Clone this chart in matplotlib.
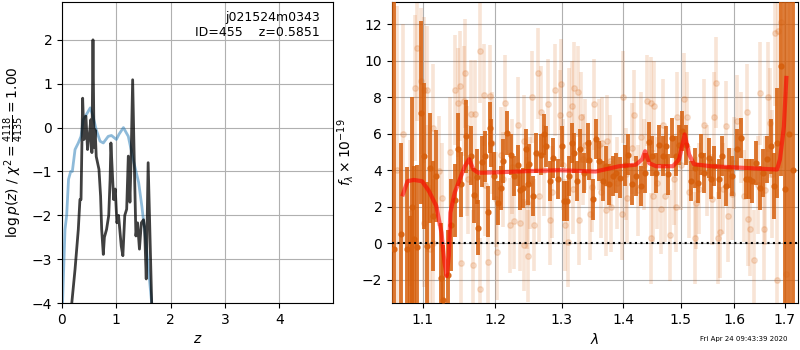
import matplotlib
matplotlib.use("Agg")
import matplotlib.pyplot as plt

# left panel: redshift probability
z_prior = [0.01, 0.055, 0.086, 0.12, 0.16, 0.19, 0.24, 0.30, 0.35, 0.39, 0.45, 0.52, 0.57, 0.63,
           0.70, 0.76, 0.85, 0.91, 1.0, 1.05, 1.13, 1.22, 1.31, 1.41, 1.47, 1.53, 1.59, 1.65]
logp_prior = [-4.0, -2.32, -2.0, -1.18, -1.0, -1.0, -0.5, -0.35, -0.2, 0.18, 0.3, 0.45, 0.26, -0.05,
              -0.31, -0.35, -0.2, -0.18, -0.27, -0.15, 0.0, -0.2, -0.73, -1.25, -1.8, -2.45, -3.2, -4.0]

z_fit = [0.18, 0.24, 0.30, 0.33, 0.35, 0.38, 0.405, 0.44, 0.47, 0.50, 0.53, 0.55, 0.57, 0.59,
         0.61, 0.63, 0.68, 0.71, 0.73, 0.76, 0.78, 0.82, 0.86, 0.885, 0.90, 0.95, 0.98, 1.01,
         1.04, 1.09, 1.12, 1.155, 1.19, 1.22, 1.25, 1.27, 1.30, 1.33, 1.36, 1.39, 1.425, 1.46,
         1.50, 1.52, 1.55, 1.585, 1.65]
logp_fit = [-4.0, -3.23, -2.32, -1.64, -1.64, 0.67, -0.27, 0.26, -0.5, -0.2, 0.18, -0.57, 2.0, -0.45,
            -0.05, -0.66, -0.95, -1.56, -2.32, -2.89, -2.5, -2.32, -2.0, -1.18, -0.35, -1.64, -1.4, -2.17,
            -2.0, -2.7, -2.92, -2.0, -1.86, -0.65, -1.7, -0.8, 1.09, -0.8, -2.47, -2.17, -2.77, -2.17,
            -2.1, -2.3, -3.45, -0.8, -4.0]

# right panel: spectrum, first beam (dark points)
wave_a = [1.062, 1.071, 1.079, 1.083, 1.086, 1.089, 1.093, 1.097, 1.101, 1.105, 1.109, 1.113, 1.117,
          1.124, 1.127, 1.134, 1.138, 1.143, 1.148, 1.152, 1.158, 1.165, 1.170, 1.174, 1.176, 1.181,
          1.185, 1.189, 1.192, 1.194, 1.199, 1.204, 1.208, 1.212, 1.217, 1.223, 1.228, 1.233, 1.237,
          1.241, 1.246, 1.249, 1.250, 1.256, 1.261, 1.268, 1.273, 1.276, 1.281, 1.287, 1.294, 1.300,
          1.304, 1.308, 1.311, 1.316, 1.320, 1.324, 1.329, 1.335, 1.341, 1.343, 1.350, 1.355, 1.360,
          1.366, 1.371, 1.376, 1.383, 1.387, 1.395, 1.402, 1.408, 1.414, 1.421, 1.430, 1.436, 1.443,
          1.449, 1.456, 1.462, 1.468, 1.474, 1.478, 1.485, 1.491, 1.497, 1.503, 1.509, 1.519, 1.525,
          1.531, 1.537, 1.543, 1.551, 1.556, 1.562, 1.571, 1.577, 1.583, 1.589, 1.596, 1.604, 1.612,
          1.622, 1.628, 1.635, 1.641, 1.650, 1.656, 1.663, 1.671, 1.677, 1.684, 1.692, 1.700, 1.708,
          1.716]
flux_a = [-0.33, 0.5, -0.33, -3.5, 2.0, 0.22, -0.2, 7.15, 4.77, -0.13, 4.13, 1.5, 3.68,
          -1.88, -3.1, -1.75, 1.0, 2.35, 5.14, 3.22, 5.86, 4.8, 2.62, 3.64, 0.86, 4.46,
          4.77, 1.73, 6.32, 5.5, 3.68, 2.22, 3.04, 4.5, 6.05, 4.86, 3.68, 4.26, 2.9,
          3.04, 5.14, 3.22, 4.32, 2.58, 4.95, 4.86, 5.96, 5.3, 3.4, 4.67, 3.52, 5.3,
          2.31, 2.31, 3.68, 5.5, 4.95, 3.4, 5.14, 3.86, 5.5, 4.58, 2.4, 5.72, 4.5,
          3.4, 4.22, 3.22, 3.68, 3.86, 3.6, 4.26, 4.86, 3.22, 3.68, 3.13, 3.86, 5.55,
          4.77, 3.86, 5.4, 4.77, 5.32, 3.77, 5.77, 4.77, 5.4, 6.14, 5.4, 3.4, 4.13,
          3.31, 4.86, 3.86, 4.68, 3.5, 4.22, 3.5, 4.77, 3.13, 4.13, 3.68, 5.14, 5.77,
          3.5, 3.5, 3.4, 4.4, 3.04, 3.86, 4.6, 5.3, 3.13, 5.5, 9.69, 3.0, 6.0,
          4.0]
err_a = [20, 5, 4.5, 5, 6, 4, 4.5, 5, 4, 3.5, 3, 3, 2.5,
         3, 3, 2.5, 2.5, 2, 2, 1.8, 2, 1.6, 1.5, 1.5, 1.5, 1.4,
         1.4, 1.4, 1.4, 1.3, 1.3, 1.2, 1.2, 1.2, 1.2, 1.1, 1.1, 1.1, 1.1,
         1.1, 1.1, 1.1, 1.1, 1.1, 1.1, 1.1, 1.1, 1.1, 1.1, 1.1, 1.1, 1.1,
         1.1, 1.1, 1.1, 1.1, 1.1, 1.1, 1.1, 1.1, 1.1, 1.1, 1.1, 1.1, 1.1,
         1.1, 1.1, 1.1, 1.1, 1.1, 1.1, 1.1, 1.1, 1.1, 1.1, 1.1, 1.1, 1.1,
         1.1, 1.1, 1.1, 1.1, 1.1, 1.1, 1.1, 1.1, 1.1, 1.1, 1.1, 1.1, 1.1,
         1.1, 1.1, 1.1, 1.1, 1.1, 1.1, 1.1, 1.1, 1.1, 1.1, 1.1, 1.1, 1.1,
         1.1, 1.1, 1.2, 1.2, 1.2, 1.3, 1.3, 1.5, 1.8, 3, 6, 15, 20,
         30]

# second beam (faint points)
wave_b = [1.066, 1.074, 1.083, 1.090, 1.093, 1.097, 1.101, 1.102, 1.105, 1.106, 1.110, 1.113, 1.114,
          1.122, 1.125, 1.137, 1.144, 1.148, 1.150, 1.152, 1.156, 1.157, 1.160, 1.162, 1.166, 1.169,
          1.171, 1.178, 1.179, 1.184, 1.186, 1.189, 1.192, 1.196, 1.201, 1.203, 1.208, 1.212, 1.214,
          1.221, 1.225, 1.228, 1.233, 1.237, 1.242, 1.243, 1.247, 1.249, 1.252, 1.255, 1.258, 1.263,
          1.265, 1.268, 1.272, 1.278, 1.281, 1.285, 1.289, 1.297, 1.299, 1.302, 1.305, 1.310, 1.312,
          1.316, 1.318, 1.320, 1.326, 1.328, 1.330, 1.334, 1.337, 1.345, 1.348, 1.352, 1.360, 1.362,
          1.365, 1.371, 1.373, 1.378, 1.380, 1.390, 1.398, 1.400, 1.404, 1.406, 1.415, 1.418, 1.425,
          1.430, 1.435, 1.440, 1.447, 1.448, 1.450, 1.453, 1.458, 1.465, 1.468, 1.472, 1.481, 1.488,
          1.491, 1.493, 1.500, 1.506, 1.512, 1.515, 1.525, 1.527, 1.533, 1.543, 1.548, 1.558, 1.562,
          1.565, 1.568, 1.573, 1.578, 1.583, 1.588, 1.595, 1.600, 1.605, 1.612, 1.618, 1.624, 1.626,
          1.631, 1.639, 1.645, 1.650, 1.657, 1.660, 1.666, 1.669, 1.673, 1.679, 1.684, 1.686, 1.692,
          1.703]
flux_b = [4.0, 6.0, 1.68, 8.5, 10.7, 8.9, 8.4, 1.13, 3.0, 8.4, -0.3, 0.0, 6.3,
          3.97, 2.5, 5.0, 8.4, 7.7, 8.6, -1.1, 7.8, 9.3, 4.5, 3.5, 7.05, -1.2,
          7.05, -2.5, 10.5, 8.1, 3.2, -1.0, 8.05, 5.5, 2.4, -0.5, 4.85, 3.5, 7.7,
          1.0, 4.2, 1.2, 6.5, 1.1, 5.6, -0.1, 2.2, -0.7, 3.3, 8.0, 1.0, 9.3,
          2.6, 7.2, 4.0, 7.6, 1.3, 2.8, 8.4, 7.0, 8.7, 4.3, 1.0, 0.1, 7.1,
          7.5, 3.0, 8.5, 8.3, 1.3, 6.9, 4.6, 5.4, 1.6, 3.1, 7.6, 5.4, 2.8,
          5.5, 1.8, 5.6, 4.5, 2.0, 3.3, 1.6, 8.0, 3.8, 2.5, 5.2, 7.0, 2.9,
          5.8, 4.3, 7.8, 7.7, 0.27, 2.6, 7.5, 3.3, 1.9, 6.5, 2.6, 0.44, 3.5,
          2.0, 6.9, 4.3, 7.9, 6.9, 2.8, 0.3, 2.2, 3.0, 6.5, 4.0, 2.4, 6.9,
          8.8, 0.3, 0.6, 3.0, 6.4, 1.5, 2.7, 4.4, 6.7, 5.8, 2.6, 7.2, 1.35,
          0.8, -0.9, 3.2, 8.2, 0.8, 2.9, 8.0, 6.6, 3.8, 11.5, -2.0, 11.6, 12.1,
          -1.7]
err_b = [9, 6, 4, 4, 4, 4, 4, 3.5, 3.5, 3.5, 3.5, 3.5, 3.5,
         3, 3, 3, 3, 3, 3, 3, 3, 3, 3, 3, 3, 3,
         3, 2.8, 2.8, 2.8, 2.8, 2.8, 2.8, 2.8, 2.6, 2.6, 2.6, 2.6, 2.6,
         2.6, 2.6, 2.6, 2.6, 2.6, 2.5, 2.5, 2.5, 2.5, 2.5, 2.5, 2.5, 2.5,
         2.5, 2.5, 2.5, 2.5, 2.5, 2.5, 2.5, 2.5, 2.5, 2.5, 2.5, 2.5, 2.5,
         2.5, 2.5, 2.5, 2.5, 2.5, 2.5, 2.5, 2.5, 2.5, 2.5, 2.5, 2.5, 2.5,
         2.5, 2.5, 2.5, 2.5, 2.5, 2.5, 2.5, 2.5, 2.5, 2.5, 2.5, 2.5, 2.5,
         2.5, 2.5, 2.5, 2.5, 2.5, 2.5, 2.5, 2.5, 2.5, 2.5, 2.5, 2.5, 2.5,
         2.5, 2.5, 2.5, 2.5, 2.5, 2.5, 2.5, 2.5, 2.5, 2.5, 2.5, 2.5, 2.5,
         2.5, 2.5, 2.5, 2.5, 2.5, 2.5, 2.5, 2.5, 2.5, 2.5, 2.5, 2.6, 2.6,
         2.6, 2.7, 2.7, 2.8, 2.8, 3, 3, 3, 3.5, 4, 5, 6, 8,
         10]

# best-fit model
wave_m = [1.074, 1.080, 1.088, 1.099, 1.108, 1.118, 1.125, 1.129, 1.132, 1.135, 1.137, 1.143, 1.150,
          1.157, 1.163, 1.169, 1.176, 1.20, 1.246, 1.295, 1.354, 1.393, 1.421, 1.432, 1.437, 1.444,
          1.456, 1.465, 1.486, 1.497, 1.507, 1.515, 1.524, 1.555, 1.618, 1.684, 1.690, 1.698, 1.703]
flux_m = [2.68, 3.4, 3.47, 3.4, 2.87, 2.04, 0.58, -1.05, -1.79, -0.67, 1.68, 2.77, 3.5,
          4.22, 4.6, 4.04, 3.86, 3.88, 3.95, 4.0, 3.93, 4.22, 4.3, 4.6, 5.04, 4.39,
          4.22, 4.22, 4.22, 4.6, 5.96, 4.87, 4.33, 4.22, 4.13, 4.04, 4.6, 6.4, 9.05]

wave_ticks = [1.1, 1.2, 1.3, 1.4, 1.5, 1.6, 1.7]

orange = "#d65f0c"

fig = plt.figure(figsize=(8, 3.5), dpi=100)
ax1 = fig.add_axes([0.0775, 0.134, 0.339, 0.86])
ax2 = fig.add_axes([0.49, 0.134, 0.5075, 0.86])

ax1.plot(z_prior, logp_prior, color="tab:blue", alpha=0.5, lw=2)
ax1.plot(z_fit, logp_fit, color="k", alpha=0.75, lw=2)
ax1.set_xlim(0, 4.99)
ax1.set_ylim(-4, 2.86)
ax1.set_xticks([0, 1, 2, 3, 4])
ax1.grid(True)
ax1.set_xlabel(r"$z$")
ax1.set_ylabel(r"$\log p(z)$ / $\chi^2=\frac{4118}{4135}=1.00$")
ax1.text(0.95, 0.97, "j021524m0343\nID=455    z=0.5851", transform=ax1.transAxes,
         ha="right", va="top", fontsize=9)

ax2.errorbar(wave_b, flux_b, yerr=err_b, fmt="o", color=orange, alpha=0.17,
             ms=4, lw=2.6, zorder=2)
ax2.errorbar(wave_a, flux_a, yerr=err_a, fmt="o", color=orange, alpha=0.85,
             ms=3.5, lw=2.8, zorder=3)
ax2.plot(wave_m, flux_m, color="r", alpha=0.6, lw=3, zorder=4)
ax2.axhline(0, color="k", ls=":", lw=1.5, zorder=5)

ax2.set_xscale("log")
ax2.set_xlim(1.06, 1.727)
ax2.set_ylim(-3.27, 13.2)
ax2.set_xticks(wave_ticks)
ax2.set_xticklabels([f"{w:.1f}" for w in wave_ticks])
ax2.minorticks_off()
ax2.grid(True)
ax2.set_xlabel(r"$\lambda$")
ax2.set_ylabel(r"$f_\lambda\times10^{-19}$")

fig.text(0.93, 0.031, "Fri Apr 24 09:43:39 2020", ha="center", va="center", fontsize=5)

fig.savefig("out.png", dpi=100)
